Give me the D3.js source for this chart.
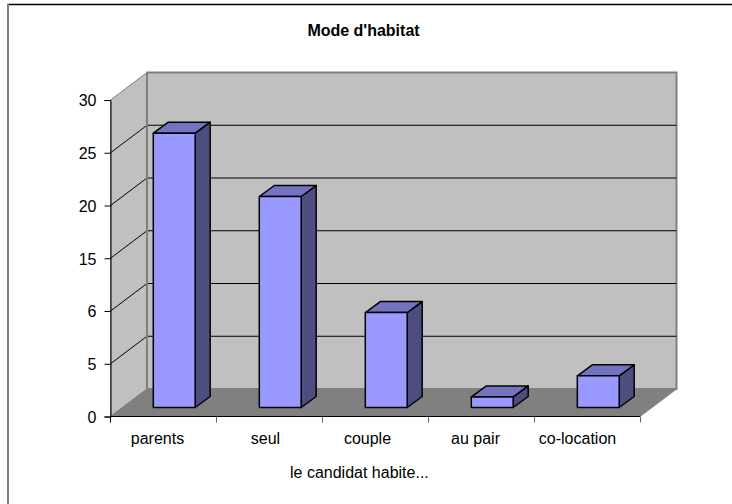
<!DOCTYPE html>
<html>
<head>
<meta charset="utf-8">
<script src="https://cdn.jsdelivr.net/npm/d3@7"></script>
<style>
  html, body { margin: 0; padding: 0; background: #fff; }
  svg { display: block; }
  text { font-family: "Liberation Sans", Arial, sans-serif; fill: #000; }
</style>
</head>
<body>
<script>
const categories = ['parents', 'seul', 'couple', 'au pair', 'co-location'];
const values = [26, 20, 9, 1, 3];
const yTicks = [0, 5, 10, 15, 20, 25, 30];
const yTickLabels = ['0', '5', '6', '15', '20', '25', '30'];

const width = 732;
const height = 504;

// front plane of the 3d box
const plotLeft = 110.5, plotRight = 640, plotBottom = 416.5, plotTop = 100;
// how far the back wall is shifted from the front plane
const depthX = 36.5, depthY = -27.5;
// bars sit inside the depth
const gapX = 11, gapY = -9;
const barDepthX = 15, barDepthY = -11;

const svg = d3.select('body')
  .append('svg')
  .attr('width', width)
  .attr('height', height);

// frame, only top and left are visible
svg.append('line').attr('x1', 7).attr('x2', width).attr('y1', 4.5).attr('y2', 4.5)
  .attr('stroke', '#000').attr('stroke-width', 1.5);
svg.append('line').attr('x1', 8).attr('x2', 8).attr('y1', 4).attr('y2', height)
  .attr('stroke', '#808080').attr('stroke-width', 2);

const x = d3.scaleBand()
  .domain(categories)
  .range([plotLeft, plotRight])
  .paddingInner(0.605)
  .paddingOuter(0.3);

// labels are not quite centred under the bars in the original
const xLabel = d3.scaleOrdinal()
  .domain(categories)
  .range([157.5, 265.5, 367.5, 475.5, 577.5]);

const y = d3.scaleLinear()
  .domain([0, 30])
  .range([plotBottom, plotTop]);

const poly = pts => pts.map(p => p.join(',')).join(' ');

// left wall
svg.append('polygon')
  .attr('points', poly([[plotLeft, plotBottom], [plotLeft, plotTop], [plotLeft + depthX, plotTop + depthY], [plotLeft + depthX, plotBottom + depthY]]))
  .attr('fill', '#c0c0c0')
  .attr('stroke', '#808080')
  .attr('stroke-width', 1);

// back wall
svg.append('rect')
  .attr('x', plotLeft + depthX)
  .attr('y', plotTop + depthY)
  .attr('width', plotRight - plotLeft)
  .attr('height', plotBottom - plotTop)
  .attr('fill', '#c0c0c0')
  .attr('stroke', '#808080')
  .attr('stroke-width', 2);

// floor
svg.append('polygon')
  .attr('points', poly([[plotLeft, plotBottom], [plotRight, plotBottom], [plotRight + depthX, plotBottom + depthY], [plotLeft + depthX, plotBottom + depthY]]))
  .attr('fill', '#808080')
  .attr('stroke', '#808080')
  .attr('stroke-width', 1);

// gridlines on both walls
const grid = svg.append('g')
  .attr('fill', 'none')
  .attr('stroke', '#000')
  .attr('stroke-width', 1);

yTicks.filter(t => t > 0 && t < 30).forEach(t => {
  grid.append('polyline')
    .attr('points', poly([
      [plotLeft, y(t)],
      [plotLeft + depthX, y(t) + depthY],
      [plotRight + depthX, y(t) + depthY]
    ]));
});

// vertical edge of the wall drawn over the grid
svg.append('line')
  .attr('x1', plotLeft + depthX).attr('x2', plotLeft + depthX)
  .attr('y1', plotTop + depthY).attr('y2', plotBottom + depthY)
  .attr('stroke', '#808080').attr('stroke-width', 2);

// bars
const bars = svg.selectAll('.bar')
  .data(categories.map((c, i) => ({ name: c, value: values[i] })))
  .enter()
  .append('g')
  .attr('class', 'bar')
  .attr('stroke', '#000')
  .attr('stroke-width', 1.5)
  .attr('stroke-linejoin', 'round');

const barBase = y(0) + gapY;
const barX = d => x(d.name) + gapX;
const barTop = d => y(d.value) + gapY;

bars.append('polygon')
  .attr('points', d => {
    const xr = barX(d) + x.bandwidth();
    return poly([[xr, barTop(d)], [xr + barDepthX, barTop(d) + barDepthY], [xr + barDepthX, barBase + barDepthY], [xr, barBase]]);
  })
  .attr('fill', '#4d4d80');

bars.append('polygon')
  .attr('points', d => {
    const xl = barX(d), xr = xl + x.bandwidth();
    return poly([[xl, barTop(d)], [xl + barDepthX, barTop(d) + barDepthY], [xr + barDepthX, barTop(d) + barDepthY], [xr, barTop(d)]]);
  })
  .attr('fill', '#7373bf');

bars.append('rect')
  .attr('x', barX)
  .attr('y', barTop)
  .attr('width', x.bandwidth())
  .attr('height', d => barBase - barTop(d))
  .attr('fill', '#9999ff');

// y axis
const yAxis = d3.axisLeft(y)
  .tickValues(yTicks)
  .tickSize(6)
  .tickPadding(8)
  .tickFormat((d, i) => yTickLabels[i]);

const gy = svg.append('g')
  .attr('transform', `translate(${plotLeft},0)`)
  .call(yAxis);
gy.select('.domain').attr('stroke', '#000').attr('stroke-width', 1);
gy.selectAll('line').attr('stroke', '#000');
gy.selectAll('text')
  .style('font-size', '16px')
  .style('font-family', '"Liberation Sans", Arial, sans-serif')
  .attr('dy', '0.36em')
  .attr('fill', '#000');

// x axis, ticks sit between the categories
const step = x.step();
const xEdges = d3.range(categories.length + 1).map(i => plotLeft + i * step);
const xAxisLine = svg.append('g').attr('stroke', '#000').attr('stroke-width', 1);
xAxisLine.append('line')
  .attr('x1', plotLeft).attr('x2', plotRight)
  .attr('y1', plotBottom).attr('y2', plotBottom);
xEdges.forEach((e, i) => {
  xAxisLine.append('line')
    .attr('x1', e).attr('x2', e)
    .attr('y1', plotBottom).attr('y2', plotBottom + 6)
    .attr('stroke', i === 0 ? '#000' : '#606060');
});

svg.selectAll('.cat')
  .data(categories)
  .enter()
  .append('text')
  .attr('class', 'cat')
  .attr('x', d => xLabel(d))
  .attr('y', 444)
  .attr('text-anchor', 'middle')
  .style('font-size', '16px')
  .text(d => d);

svg.append('text')
  .attr('x', 290)
  .attr('y', 478)
  .style('font-size', '16px')
  .text('le candidat habite...');

svg.append('text')
  .attr('x', 363.5)
  .attr('y', 35.5)
  .attr('text-anchor', 'middle')
  .style('font-size', '16px')
  .style('font-weight', 'bold')
  .text("Mode d'habitat");
</script>
</body>
</html>
